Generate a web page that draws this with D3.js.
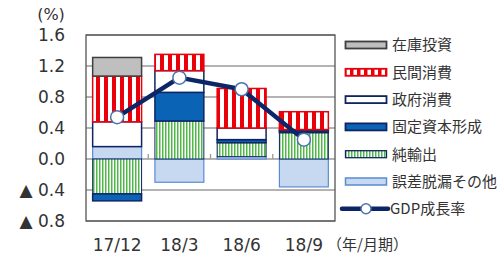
<!DOCTYPE html>
<html><head><meta charset="utf-8">
<script src="https://cdn.jsdelivr.net/npm/d3@7"></script>
<style>body{margin:0;background:#fff}svg{display:block}</style>
</head><body><svg id="c" width="500" height="258"></svg>
<script>
const categories = ["17/12","18/3","18/6","18/9"];
const inventory  = [0.24, 0.00, 0.00, 0.00];
const privateC   = [0.59, 0.21, 0.51, 0.23];
const government = [0.32, 0.28, 0.15, 0.02];
const fixedCap   = [-0.09, 0.37, 0.04, 0.02];
const netExports = [-0.45, 0.49, 0.18, 0.34];
const errorsEtc  = [0.16, -0.30, 0.03, -0.36];
const gdpGrowth  = [0.54, 1.05, 0.90, 0.25];
const yTicks = [-0.8,-0.4,0,0.4,0.8,1.2,1.6];
const seriesNames = ["在庫投資","民間消費","政府消費","固定資本形成","純輸出","誤差脱漏その他"];
const lineName = "GDP成長率";

const svg = d3.select("#c");
const font = "'DejaVu Sans', Verdana, sans-serif";
const jfont = "'Noto Sans CJK JP', sans-serif";
const L=86, R=335, T=35, B=221;
const x = d3.scaleBand().domain(categories).range([L,R]).paddingInner(0.19).paddingOuter(0.095);
const y = d3.scaleLinear().domain([-0.8,1.6]).range([B,T]);

const defs = svg.append("defs");
function stripe(id, color, period, w){
  const p = defs.append("pattern").attr("id",id).attr("patternUnits","userSpaceOnUse")
    .attr("width",period).attr("height",10);
  p.append("rect").attr("width",period).attr("height",10).attr("fill","#fff");
  p.append("rect").attr("width",w).attr("height",10).attr("fill",color);
}
stripe("red", "#e8000b", 8, 4);
stripe("green", "#4fb848", 3, 1.5);
stripe("redL", "#e8000b", 7, 3.5);

const styles = {
  "在庫投資":{fill:"#bfbfbf", stroke:"#3f3f3f", sw:1.5},
  "民間消費":{fill:"url(#red)", stroke:"#e8000b", sw:1.5, legendFill:"url(#redL)"},
  "政府消費":{fill:"#ffffff", stroke:"#0f2562", sw:1.5},
  "固定資本形成":{fill:"#0b63b5", stroke:"#0f2562", sw:1.5},
  "純輸出":{fill:"url(#green)", stroke:"#0f2562", sw:1},
  "誤差脱漏その他":{fill:"#c6d9f1", stroke:"#5a8bd3", sw:1.2}
};

// gridlines
svg.append("g").selectAll("line").data(yTicks).join("line")
  .attr("x1",L).attr("x2",R).attr("y1",d=>y(d)).attr("y2",d=>y(d))
  .attr("stroke","#9a9a9a").attr("stroke-width",1.3);

// category tick marks on zero line
const bounds = categories.slice(1).map(c=>x(c)-x.step()*x.paddingInner()/2);
svg.append("g").selectAll("line").data(bounds).join("line")
  .attr("x1",d=>d).attr("x2",d=>d).attr("y1",y(0)).attr("y2",y(0)-5)
  .attr("stroke","#9a9a9a").attr("stroke-width",1.3);

// stacked bars
const rows = categories.map((c,i)=>({cat:c,
  "在庫投資":inventory[i],"民間消費":privateC[i],"政府消費":government[i],
  "固定資本形成":fixedCap[i],"純輸出":netExports[i],"誤差脱漏その他":errorsEtc[i]}));
const stackKeys = ["誤差脱漏その他","純輸出","固定資本形成","政府消費","民間消費","在庫投資"];
const stacked = d3.stack().keys(stackKeys).offset(d3.stackOffsetDiverging)(rows);
const bw = x.bandwidth();
stacked.forEach(s=>{
  const st = styles[s.key];
  svg.append("g").selectAll("rect").data(s.filter(d=>d[1]!==d[0])).join("rect")
    .attr("x",d=>x(d.data.cat)+0.75).attr("width",bw-1.5)
    .attr("y",d=>y(Math.max(d[0],d[1]))).attr("height",d=>Math.abs(y(d[0])-y(d[1])))
    .attr("fill",st.fill).attr("stroke",st.stroke).attr("stroke-width",st.sw);
});

// frame
svg.append("rect").attr("x",L).attr("y",T).attr("width",R-L).attr("height",B-T)
  .attr("fill","none").attr("stroke","#555").attr("stroke-width",1.3);

// GDP line
const cx = c=>x(c)+bw/2;
svg.append("path").datum(gdpGrowth)
  .attr("d",d3.line().x((d,i)=>cx(categories[i])).y(d=>y(d)))
  .attr("fill","none").attr("stroke","#0c2566").attr("stroke-width",4.5).attr("stroke-linejoin","round");
svg.append("g").selectAll("circle").data(gdpGrowth).join("circle")
  .attr("cx",(d,i)=>cx(categories[i])).attr("cy",d=>y(d)).attr("r",6.5)
  .attr("fill","#fff").attr("stroke","#4b72ad").attr("stroke-width",1.5);

// y axis labels
const fmt = d=> d<0 ? "▲ "+Math.abs(d).toFixed(1) : d.toFixed(1);
svg.append("g").selectAll("text").data(yTicks).join("text")
  .attr("x",65).attr("y",d=>y(d)).attr("dy","0.36em").attr("text-anchor","end")
  .attr("font-family",font).attr("font-size",17).attr("fill","#333").text(fmt);
svg.append("text").attr("x",51).attr("y",20).attr("text-anchor","middle")
  .attr("font-family",font).attr("font-size",16).attr("fill","#333").text("(%)");

// x labels
svg.append("g").selectAll("text").data(categories).join("text")
  .attr("x",d=>cx(d)).attr("y",245).attr("dy","0.36em").attr("text-anchor","middle")
  .attr("font-family",font).attr("font-size",17).attr("fill","#333").text(d=>d);
svg.append("text").attr("x",327).attr("y",245).attr("dy","0.36em")
  .attr("font-family",jfont).attr("font-size",15).attr("fill","#333").text("（年/月期）");

// legend
const lg = svg.append("g");
const ly0 = 45, ldy = 27.3;
seriesNames.forEach((n,i)=>{
  const st = styles[n], yy = ly0 + i*ldy;
  lg.append("rect").attr("x",345.5).attr("y",yy-3.5).attr("width",41).attr("height",7)
    .attr("fill",st.legendFill||st.fill).attr("stroke",st.stroke).attr("stroke-width",st.sw+0.3);
  lg.append("text").attr("x",392).attr("y",yy).attr("dy","0.36em")
    .attr("font-family",jfont).attr("font-size",15).attr("fill","#333").text(n);
});
const gy = ly0 + 6*ldy;
lg.append("line").attr("x1",342).attr("x2",388).attr("y1",gy).attr("y2",gy)
  .attr("stroke","#0c2566").attr("stroke-width",4.5).attr("stroke-linecap","round");
lg.append("circle").attr("cx",366).attr("cy",gy).attr("r",5)
  .attr("fill","#fff").attr("stroke","#4b72ad").attr("stroke-width",1.5);
lg.append("text").attr("x",390).attr("y",gy).attr("dy","0.36em")
  .attr("font-family",jfont).attr("font-size",15).attr("fill","#333").text(lineName);
</script></body></html>
